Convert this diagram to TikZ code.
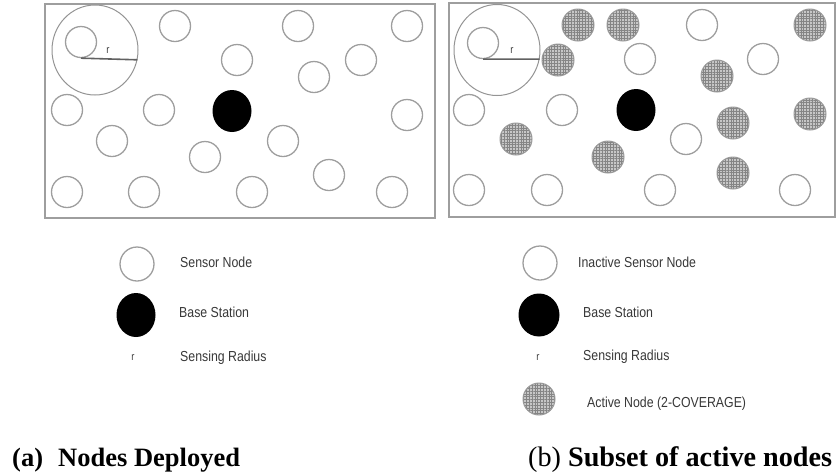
\documentclass[tikz,border=0pt]{standalone}
\usepackage{fontspec}
\setmainfont{Liberation Serif}
\newfontfamily\legfont[FakeStretch=0.85]{Liberation Sans}
\usetikzlibrary{shapes.geometric,patterns.meta}
\begin{document}
\begin{tikzpicture}[x=1pt,y=-1pt,
  sensor/.style={circle,draw=black!38,line width=1.3pt,minimum size=31pt,inner sep=0pt},
  basest/.style={ellipse,fill=black,minimum width=39pt,minimum height=42pt,inner sep=0pt},
  active/.style={circle,draw=black!40,line width=1pt,minimum size=32pt,inner sep=0pt,
     preaction={fill=black!22},pattern={Hatch[angle=0,distance=2.8pt,line width=0.45pt]},pattern color=black!48},
  rangec/.style={ellipse,draw=black!42,line width=1pt,minimum width=86pt,minimum height=90pt,inner sep=0pt},
  field/.style={rectangle,draw=black!38,line width=1.6pt,inner sep=0pt},
  radline/.style={draw=black!62,line width=1.6pt},
  rlabel/.style={font=\legfont\fontsize{11}{11}\selectfont,text=black!75,inner sep=0pt},
  legtext/.style={font=\legfont\fontsize{14.5}{16}\selectfont,text=black!78,anchor=base west,inner sep=0pt},
  captext/.style={font=\fontsize{26.5}{30}\selectfont,anchor=base west,inner sep=0pt}
]
\useasboundingbox (0,0) rectangle (837,475);

% ---------------- panel (a) ----------------
\node[field,minimum width=390pt,minimum height=214pt] (fa) at (240,111) {};
\node[rangec] (ra) at (95,50) {};
\node[sensor] (a0) at (81,42) {};
\draw[radline] (a0.south) -- (ra.-13.4);
\node[rlabel] (ral) at (108,51) {r};
\node[sensor] (a1) at (175,26) {};
\node[sensor] (a2) at (298,26) {};
\node[sensor] (a3) at (407,26) {};
\node[sensor] (a4) at (237,60) {};
\node[sensor] (a5) at (361,60) {};
\node[sensor] (a6) at (314,77) {};
\node[sensor] (a7) at (67,110) {};
\node[sensor] (a8) at (159,110) {};
\node[basest] (ab) at (232,111) {};
\node[sensor] (a10) at (407,115) {};
\node[sensor] (a11) at (112,141) {};
\node[sensor] (a12) at (283,141) {};
\node[sensor] (a13) at (205,157) {};
\node[sensor] (a14) at (329,175) {};
\node[sensor] (a15) at (67,192) {};
\node[sensor] (a16) at (144,192) {};
\node[sensor] (a17) at (252,192) {};
\node[sensor] (a18) at (392,192) {};

% ---------------- panel (b) ----------------
\node[field,minimum width=386pt,minimum height=214pt] (fb) at (642,110) {};
\node[rangec,minimum height=91pt] (rb) at (497,50) {};
\node[sensor] (b0) at (483,43) {};
\draw[radline] (b0.south) -- (rb.-12);
\node[rlabel] (rbl) at (512,51) {r};
\node[active] (b1) at (578,25) {};
\node[active] (b2) at (623,25) {};
\node[sensor] (b3) at (702,25) {};
\node[active] (b4) at (810,25) {};
\node[active] (b5) at (558,60) {};
\node[sensor] (b6) at (640,59) {};
\node[sensor] (b7) at (763,59) {};
\node[active] (b8) at (717,76) {};
\node[sensor] (b9) at (469,110) {};
\node[sensor] (b10) at (562,110) {};
\node[basest] (bb) at (636,110) {};
\node[active] (b12) at (733,123) {};
\node[active] (b13) at (810,114) {};
\node[active] (b14) at (516,139) {};
\node[sensor] (b15) at (686,139) {};
\node[active] (b16) at (608,157) {};
\node[active] (b17) at (733,173) {};
\node[sensor] (b18) at (469,190) {};
\node[sensor] (b19) at (547,190) {};
\node[sensor] (b20) at (660,190) {};
\node[sensor] (b21) at (795,190) {};

% ---------------- legend (a) ----------------
\node[sensor,minimum size=34pt] (la1) at (137,264) {};
\node[legtext] (ta1) at (180,267) {Sensor Node};
\node[basest,minimum width=39pt,minimum height=44pt] (la2) at (136,315) {};
\node[legtext] (ta2) at (179,317) {Base Station};
\node[rlabel] (la3) at (133,358) {r};
\node[legtext] (ta3) at (180,361) {Sensing Radius};

% ---------------- legend (b) ----------------
\node[sensor,minimum size=34pt] (lb1) at (540,263) {};
\node[legtext] (tb1) at (578,267) {Inactive Sensor Node};
\node[basest,minimum width=41pt,minimum height=43pt] (lb2) at (539,315) {};
\node[legtext] (tb2) at (583,317) {Base Station};
\node[rlabel] (lb3) at (538,358) {r};
\node[legtext] (tb3) at (583,360) {Sensing Radius};
\node[active] (lb4) at (539,399) {};
\node[legtext] (tb4) at (587,407) {Active Node (2-COVERAGE)};

% ---------------- captions ----------------
\node[captext] (ca1) at (12,466) {\textbf{(a)}};
\node[captext] (ca2) at (58,466) {\textbf{Nodes Deployed}};
\node[captext,font=\fontsize{28.2}{30}\selectfont] (cb) at (528,466) {(b) \textbf{Subset of active nodes}};
\end{tikzpicture}
\end{document}
